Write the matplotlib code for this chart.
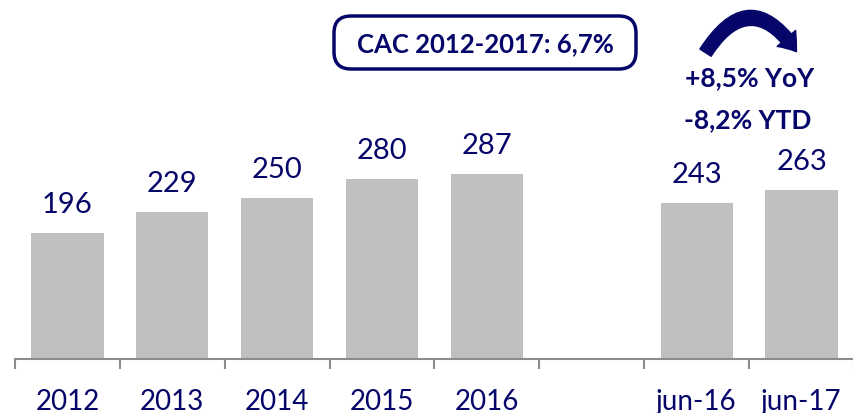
import matplotlib
matplotlib.use("Agg")
import matplotlib.pyplot as plt
from matplotlib.patches import FancyBboxPatch, FancyArrowPatch

categories = ["2012", "2013", "2014", "2015", "2016", "", "jun-16", "jun-17"]
values = [196, 229, 250, 280, 287, None, 243, 263]
box_text = "CAC 2012-2017: 6,7%"
yoy_text = "+8,5% YoY"
ytd_text = "-8,2% YTD"

navy = "#05056A"
gray = "#BFBFBF"
W, H = 854, 414

plt.rcParams['font.family'] = ['Lato', 'DejaVu Sans']

fig = plt.figure(figsize=(W / 100, H / 100), dpi=100)
ax = fig.add_axes([15 / W, 54 / H, (W - 15) / W, 360 / H])

xs = [i for i, v in enumerate(values) if v is not None]
vs = [v for v in values if v is not None]
ax.bar(xs, vs, width=0.69, color=gray, zorder=2)
for x, v in zip(xs, vs):
    ax.text(x, v + 45, str(v), ha="center", va="center", fontsize=21, color=navy)

ax.set_xlim(-0.5, 7.4)
ax.set_ylim(0, 559)
for s in ["top", "right", "left"]:
    ax.spines[s].set_visible(False)
ax.spines["bottom"].set_color("#8C8C8C")
ax.spines["bottom"].set_linewidth(1.5)
ax.set_yticks([])
ax.set_xticks([i - 0.5 for i in range(len(categories) + 1)])
ax.set_xticklabels([])
ax.set_xticks(range(len(categories)), minor=True)
ax.set_xticklabels(categories, minor=True, fontsize=20, color=navy)
ax.tick_params(axis="x", which="major", length=7, width=1.5, color="#8C8C8C")
ax.tick_params(axis="x", which="minor", length=0, pad=21)


def fx(px):
    return px / W


def fy(py):
    return 1 - py / H


# CAC box
box = FancyBboxPatch((fx(334), fy(70)), fx(636) - fx(334), fy(17) - fy(70),
                     boxstyle="round,pad=0,rounding_size=0.02",
                     transform=fig.transFigure, facecolor="white",
                     edgecolor=navy, linewidth=2.5, mutation_aspect=W / H)
fig.patches.append(box)
fig.text(fx(485), fy(44), box_text, ha="center", va="center", fontsize=18.5,
         fontweight="bold", color=navy)

# curved arrow
arr = FancyArrowPatch((fx(704), fy(56)), (fx(798), fy(55)),
                      transform=fig.transFigure,
                      connectionstyle="arc3,rad=-0.78",
                      arrowstyle="simple,head_width=1.1,head_length=0.75,tail_width=0.6",
                      mutation_scale=16, color=navy)
fig.patches.append(arr)

fig.text(fx(750), fy(78), yoy_text, ha="center", va="center", fontsize=19,
         fontweight="bold", color=navy)
fig.text(fx(748), fy(120), ytd_text, ha="center", va="center", fontsize=19,
         fontweight="bold", color=navy)

fig.savefig("out.png", dpi=100)
